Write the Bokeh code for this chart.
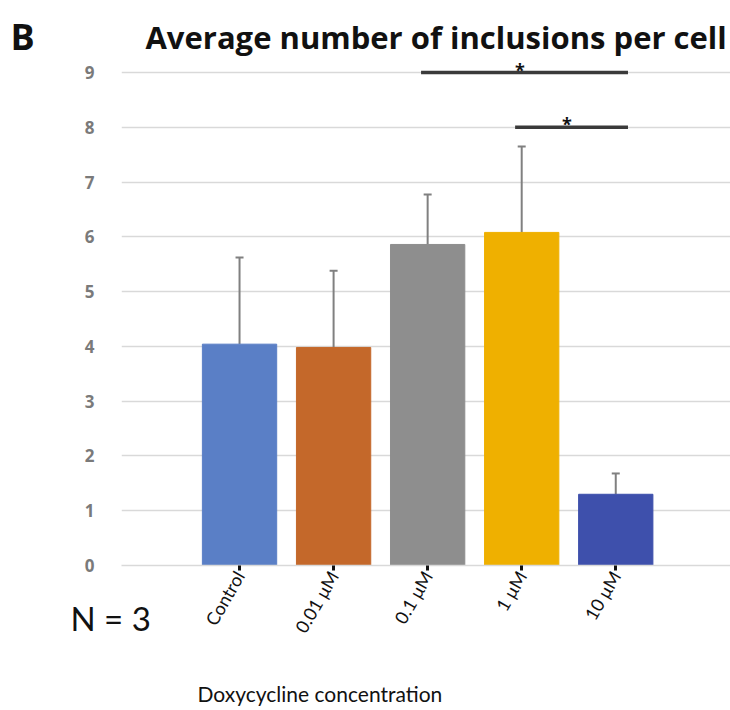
from bokeh.plotting import figure
from bokeh.models import ColumnDataSource, Whisker, TeeHead, Label, FixedTicker, Range1d
from bokeh.core.properties import value
from bokeh.embed import file_html
from bokeh.resources import INLINE
import math

# ---- data ----
categories = ["Control", "0.01 μM", "0.1 μM", "1 μM", "10 μM"]
means = [4.04, 3.98, 5.86, 6.08, 1.30]
errors = [1.58, 1.40, 0.91, 1.57, 0.38]
colors = ["#5a7fc6", "#c4682a", "#8e8e8e", "#efb000", "#3e50ac"]
y_ticks = [0, 1, 2, 3, 4, 5, 6, 7, 8, 9]
sig_from = ["0.1 μM", "1 μM"]
sig_to = ["10 μM", "10 μM"]
sig_level = [9, 8]
sig_text = ["*", "*"]

xs = [i + 1 for i in range(len(categories))]
uppers = [m + e for m, e in zip(means, errors)]

FONT = "Open Sans"
FONT2 = "Lato"

p = figure(width=730, height=710, output_backend="svg", toolbar_location=None,
           x_range=Range1d(-0.255, 6.22), y_range=Range1d(0, 9.51),
           min_border_left=121, min_border_right=0, min_border_top=44,
           min_border_bottom=145, background_fill_color="white",
           border_fill_color="white")
p.outline_line_color = None

src = ColumnDataSource(dict(x=xs, top=means, upper=uppers, color=colors))
p.vbar(x="x", top="top", bottom=0, width=0.79, fill_color="color",
       line_color="color", source=src)

p.add_layout(Whisker(base="x", lower="top", upper="upper", source=src,
                     dimension="height", line_color="#808080", line_width=2,
                     upper_head=TeeHead(size=8, line_color="#808080", line_width=2),
                     lower_head=None))

# significance bars
idx = {c: i + 1 for i, c in enumerate(categories)}
sx0 = [idx[a] - 0.07 for a in sig_from]
sx1 = [idx[b] + 0.13 for b in sig_to]
p.segment(x0=sx0, y0=sig_level, x1=sx1, y1=sig_level, line_width=3.5,
          line_color="#3a3a3a")
p.text(x=[(a + b) / 2 - 0.05 for a, b in zip(sx0, sx1)],
       y=[s + 0.05 for s in sig_level], text=sig_text,
       text_align="center", text_baseline="alphabetic",
       text_font=value(FONT), text_font_size="18px", text_font_style="bold",
       text_color="#111111")

# axes
p.xaxis.ticker = FixedTicker(ticks=xs)
p.xaxis.major_label_overrides = {x: c for x, c in zip(xs, categories)}
p.xaxis.major_label_orientation = math.pi / 3
p.xaxis.major_label_text_font = FONT2
p.xaxis.major_label_text_font_size = "18px"
p.xaxis.major_label_text_color = "#111111"
p.xaxis.major_label_standoff = 2
p.xaxis.axis_line_color = "#d9d9d9"
p.xaxis.axis_line_width = 1.5
p.xaxis.major_tick_in = 0
p.xaxis.major_tick_out = 5
p.xaxis.major_tick_line_width = 3
p.xaxis.major_tick_line_color = "#111111"
p.xaxis.minor_tick_line_color = None

p.yaxis.ticker = FixedTicker(ticks=y_ticks)
p.yaxis.axis_line_color = None
p.yaxis.major_tick_line_color = None
p.yaxis.minor_tick_line_color = None
p.yaxis.major_label_standoff = 21
p.yaxis.major_label_text_font = FONT
p.yaxis.major_label_text_font_size = "17px"
p.yaxis.major_label_text_font_style = "bold"
p.yaxis.major_label_text_color = "#7a7a7a"

p.xgrid.grid_line_color = None
p.ygrid.grid_line_color = "#d9d9d9"
p.ygrid.grid_line_width = 1.5

# texts (placed in side panels so they are not clipped to the frame)
p.add_layout(Label(x=0.0, y=9.65, text="Average number of inclusions per cell",
                   text_font=FONT, text_font_size="31px", text_font_style="bold",
                   text_color="#111111", text_align="left",
                   text_baseline="alphabetic"), "above")
p.add_layout(Label(x=-1.436, y=9.65, text="B", text_font=FONT,
                   text_font_size="36px", text_font_style="bold",
                   text_color="#111111", text_align="left",
                   text_baseline="alphabetic"), "left")
p.add_layout(Label(x=-0.798, y=-0.967, text="N = 3", text_font=FONT2,
                   text_font_size="33px", text_color="#111111",
                   text_align="left", text_baseline="alphabetic"), "below")
p.add_layout(Label(x=0.553, y=-2.34, text="Doxycycline concentration",
                   text_font=FONT2, text_font_size="21px", text_color="#111111",
                   text_align="left", text_baseline="alphabetic"), "below")

open("out.html", "w").write(file_html(p, INLINE))
